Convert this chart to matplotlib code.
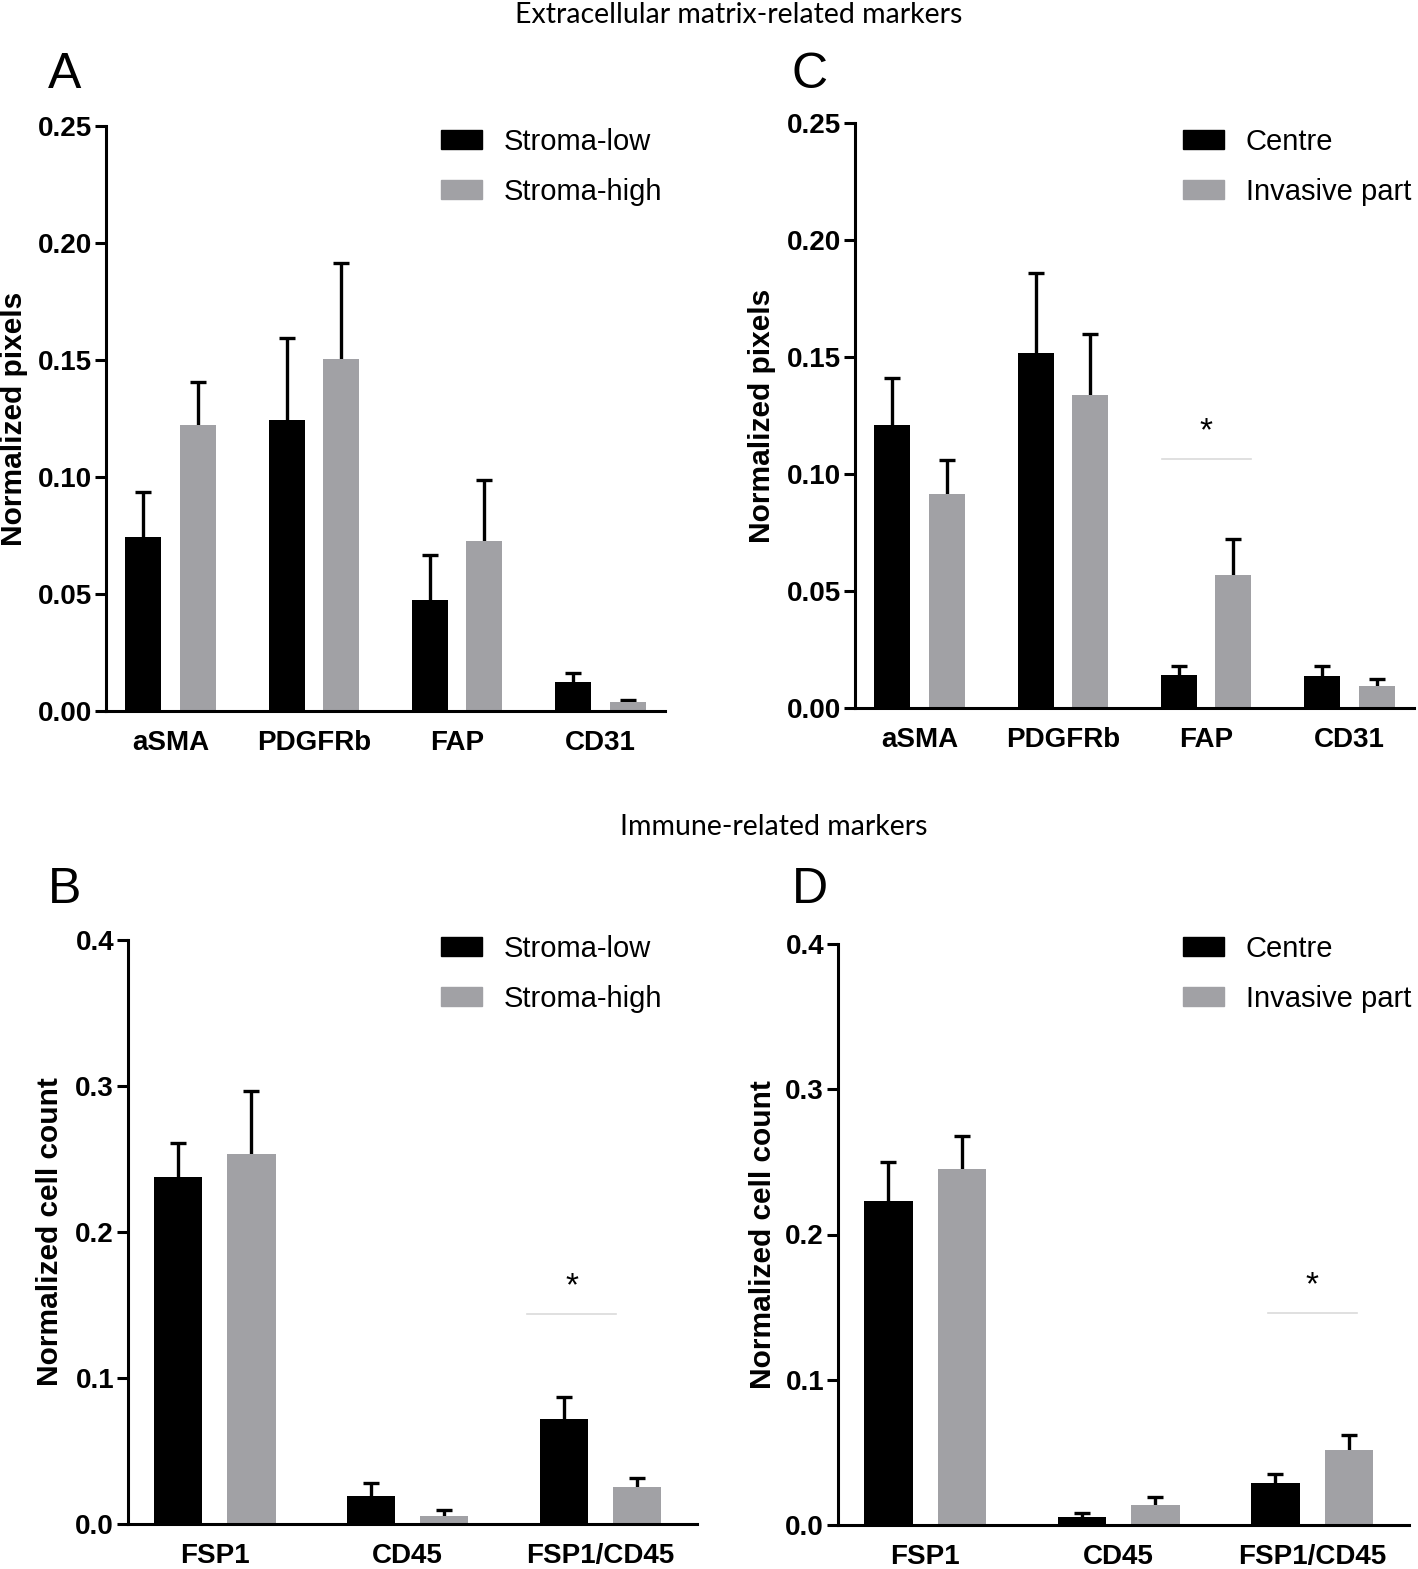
import matplotlib
matplotlib.use('Agg')
import matplotlib.pyplot as plt
import numpy as np
from matplotlib.patches import Patch

# categories
ecm_markers = ['aSMA', 'PDGFRb', 'FAP', 'CD31']
immune_markers = ['FSP1', 'CD45', 'FSP1/CD45']

# A: stroma-low vs stroma-high (normalized pixels)
a_low_mean = [0.0744, 0.1244, 0.0476, 0.0124]
a_low_sem = [0.0191, 0.0350, 0.0191, 0.0039]
a_high_mean = [0.1222, 0.1506, 0.0728, 0.0037]
a_high_sem = [0.0182, 0.0407, 0.0261, 0.0009]

# C: centre vs invasive part (normalized pixels)
c_centre_mean = [0.1210, 0.1515, 0.0142, 0.0135]
c_centre_sem = [0.0200, 0.0342, 0.0039, 0.0046]
c_inv_mean = [0.0915, 0.1338, 0.0569, 0.0094]
c_inv_sem = [0.0144, 0.0262, 0.0152, 0.0028]

# B: stroma-low vs stroma-high (normalized cell count)
b_low_mean = [0.2377, 0.0190, 0.0721]
b_low_sem = [0.0233, 0.0093, 0.0146]
b_high_mean = [0.2534, 0.0058, 0.0254]
b_high_sem = [0.0435, 0.0041, 0.0058]

# D: centre vs invasive part (normalized cell count)
d_centre_mean = [0.2234, 0.0055, 0.0292]
d_centre_sem = [0.0268, 0.0030, 0.0058]
d_inv_mean = [0.2450, 0.0137, 0.0517]
d_inv_sem = [0.0230, 0.0059, 0.0102]

# significance marks: (line start, line end, level) in data units
c_star = (1.69, 2.31, 0.1062)
b_star = (1.62, 2.08, 0.1436)
d_star = (1.77, 2.23, 0.1457)

GRAY = '#a1a1a5'
TICK_FONT = {'family': 'Liberation Sans', 'weight': 'bold', 'size': 20}

W, H = 1418, 1569
fig = plt.figure(figsize=(W / 100, H / 100), dpi=100)


def px_rect(left, right, top, bottom):
    return [left / W, 1 - bottom / H, (right - left) / W, (bottom - top) / H]


def draw_panel(ax, cats, m1, s1, m2, s2, ymax, yticks, fmt, ylabel, xlim,
               labels, leg_xy, label_x, star=None):
    x = np.arange(len(cats))
    width, off = 0.25, 0.19
    for shift, m, s, col in [(-off, m1, s1, 'black'), (off, m2, s2, GRAY)]:
        eb = ax.errorbar(x + shift, m, yerr=[np.zeros(len(m)), s], fmt='none',
                         ecolor='black', elinewidth=2.4, capsize=6,
                         capthick=2.4, zorder=1)
        # only the upper cap is drawn
        eb[1][0].set_visible(False)
        ax.bar(x + shift, m, width=width, color=col, zorder=2)

    if star is not None:
        x0, x1, level = star
        ax.plot([x0, x1], [level, level], color='#dadada', lw=1.2, zorder=1)
        ax.text((x0 + x1) / 2, level + ymax * 0.047, '*', ha='center',
                va='center', fontsize=24, family='Liberation Sans')

    ax.set_xlim(*xlim)
    ax.set_ylim(0, ymax)
    ax.set_xticks(x)
    ax.set_xticklabels(cats, fontdict=TICK_FONT)
    ax.set_yticks(yticks)
    ax.set_yticklabels([fmt.format(v) for v in yticks], fontdict=TICK_FONT)
    ax.tick_params(axis='x', length=0, pad=14)
    ax.tick_params(axis='y', length=8, width=2.2, pad=2)
    for sp in ['top', 'right']:
        ax.spines[sp].set_visible(False)
    for sp in ['left', 'bottom']:
        ax.spines[sp].set_linewidth(2.2)

    ax.set_ylabel(ylabel, family='Liberation Sans', weight='bold', fontsize=21.5)
    ax.yaxis.set_label_coords(label_x, 0.5)

    handles = [Patch(color='black'), Patch(color=GRAY)]
    ax.legend(handles, labels, loc='upper left',
              bbox_to_anchor=(leg_xy[0] / W, 1 - leg_xy[1] / H),
              bbox_transform=fig.transFigure, frameon=False,
              prop={'family': 'Liberation Sans', 'size': 21},
              handlelength=1.4, handleheight=0.65, handletextpad=0.75,
              labelspacing=0.74, borderpad=0, borderaxespad=0)


ax_a = fig.add_axes(px_rect(106, 665, 126, 711))
ax_c = fig.add_axes(px_rect(855, 1414, 123, 708))
ax_b = fig.add_axes(px_rect(128, 697, 940, 1524))
ax_d = fig.add_axes(px_rect(838, 1409, 944, 1525))

ecm_ticks = [0.0, 0.05, 0.10, 0.15, 0.20, 0.25]
imm_ticks = [0.0, 0.1, 0.2, 0.3, 0.4]

draw_panel(ax_a, ecm_markers, a_low_mean, a_low_sem, a_high_mean, a_high_sem,
           0.25, ecm_ticks, '{:.2f}', 'Normalized pixels', (-0.45, 3.45),
           ['Stroma-low', 'Stroma-high'], (441, 128), -0.139)
draw_panel(ax_c, ecm_markers, c_centre_mean, c_centre_sem, c_inv_mean, c_inv_sem,
           0.25, ecm_ticks, '{:.2f}', 'Normalized pixels', (-0.45, 3.45),
           ['Centre', 'Invasive part'], (1183, 128), -0.141, star=c_star)
draw_panel(ax_b, immune_markers, b_low_mean, b_low_sem, b_high_mean, b_high_sem,
           0.4, imm_ticks, '{:.1f}', 'Normalized cell count', (-0.45, 2.5),
           ['Stroma-low', 'Stroma-high'], (441, 935), -0.113, star=b_star)
draw_panel(ax_d, immune_markers, d_centre_mean, d_centre_sem, d_inv_mean, d_inv_sem,
           0.4, imm_ticks, '{:.1f}', 'Normalized cell count', (-0.45, 2.5),
           ['Centre', 'Invasive part'], (1183, 935), -0.107, star=d_star)

# section titles
fig.text(739 / W, 1 - 23 / H, 'Extracellular matrix-related markers',
         ha='center', va='baseline', family='Lato', fontsize=20.5)
fig.text(774 / W, 1 - 835 / H, 'Immune-related markers',
         ha='center', va='baseline', family='Lato', fontsize=20.5)

# panel letters
for letter, lx, ly in [('A', 48, 88), ('C', 792, 88), ('B', 48, 903), ('D', 792, 903)]:
    fig.text(lx / W, 1 - ly / H, letter, ha='left', va='baseline',
             family='Liberation Sans', fontsize=36)

fig.savefig('out.png', dpi=100)
